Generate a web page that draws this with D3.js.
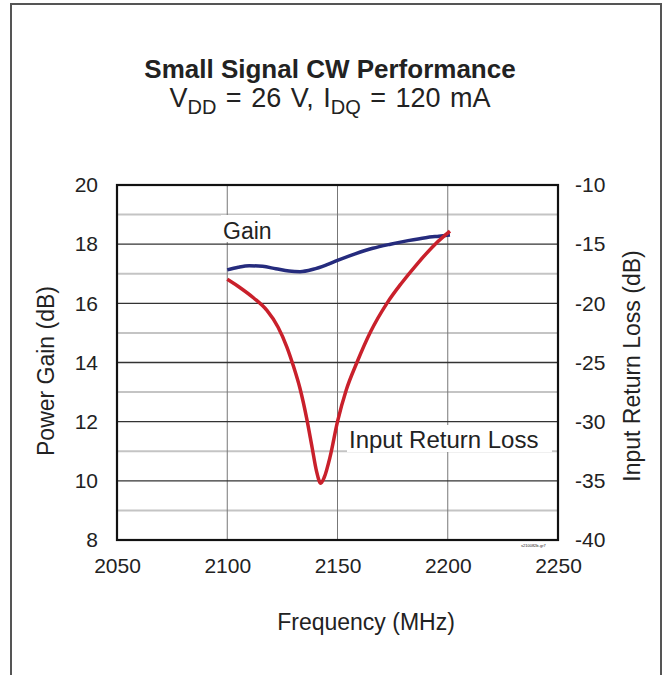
<html>
    <head>
        <title>Small Signal CW Performance</title>
        <script src="https://d3js.org/d3.v7.min.js" charset="utf-8"></script>
        <style>
        body {
            margin: 0;
            background: white;
            font-family: "Liberation Sans", Arial, sans-serif;
        }
        text { font-family: "Liberation Sans", Arial, sans-serif; fill: #222; }
        </style>
    </head>
    <body>
        <script>
            // chart size
            var width = 666;
            var height = 675;

            // gain curve (MHz, dB)
            var gainFreq = [2100, 2105, 2110, 2116, 2122, 2128, 2133, 2139, 2145, 2150, 2158, 2166, 2174, 2182, 2190, 2196, 2201];
            var gainDb   = [17.13, 17.22, 17.27, 17.25, 17.17, 17.09, 17.07, 17.15, 17.3, 17.45, 17.67, 17.86, 18.0, 18.12, 18.22, 18.27, 18.31];

            // input return loss curve (MHz, dB)
            var irlFreq = [2100, 2106, 2112, 2118, 2123, 2127, 2130, 2133, 2136, 2138.5, 2140.5, 2142.4, 2144, 2146.6, 2150, 2154, 2158.8, 2165, 2172.4, 2179, 2186, 2194.3, 2201];
            var irlDb   = [-17.97, -18.7, -19.55, -20.6, -22.0, -23.67, -25.3, -27.2, -29.7, -32.2, -34.2, -35.2, -34.7, -33.0, -30.0, -27.3, -25.0, -22.4, -20.0, -18.3, -16.7, -15.0, -13.9];

            // ticks
            var freqTicks = [2050, 2100, 2150, 2200, 2250];
            var gainTicks = [8, 10, 12, 14, 16, 18, 20];
            var gainMinor = [9, 11, 13, 15, 17, 19];
            var irlTicks  = [-40, -35, -30, -25, -20, -15, -10];

            // plot box (note: "top" is taken by window.top)
            var pL = 117, pR = 558, pT = 185, pB = 540;

            var x = d3.scaleLinear().domain([2050, 2250]).range([pL, pR]);
            var yL = d3.scaleLinear().domain([8, 20]).range([pB, pT]);
            var yR = d3.scaleLinear().domain([-40, -10]).range([pB, pT]);

            var svg = d3.select("body")
                .append("svg")
                .attr("width", width)
                .attr("height", height);

            // outer page frame
            svg.append("rect")
                .attr("x", 11).attr("y", 4)
                .attr("width", 650).attr("height", 700)
                .attr("fill", "none")
                .attr("stroke", "#555")
                .attr("stroke-width", 2);

            // titles
            svg.append("text")
                .attr("x", 330).attr("y", 78)
                .attr("text-anchor", "middle")
                .attr("font-size", 26)
                .attr("font-weight", "bold")
                .text("Small Signal CW Performance");

            var sub = svg.append("text")
                .attr("x", 330).attr("y", 107)
                .attr("text-anchor", "middle")
                .attr("font-size", 27)
                .attr("word-spacing", 2);
            sub.append("tspan").text("V");
            sub.append("tspan").attr("font-size", 20).attr("dy", 7).text("DD");
            sub.append("tspan").attr("dy", -7).text(" = 26 V, I");
            sub.append("tspan").attr("font-size", 20).attr("dy", 7).text("DQ");
            sub.append("tspan").attr("dy", -7).text(" = 120 mA");

            // grid lines
            var grid = svg.append("g");
            grid.selectAll(".minor")
                .data(gainMinor)
                .enter()
                .append("line")
                .attr("x1", pL).attr("x2", pR)
                .attr("y1", function(d){ return yL(d); })
                .attr("y2", function(d){ return yL(d); })
                .attr("stroke", "#c4c4c4")
                .attr("stroke-width", 2);

            grid.selectAll(".vert")
                .data(freqTicks.slice(1, -1))
                .enter()
                .append("line")
                .attr("x1", function(d){ return x(d); })
                .attr("x2", function(d){ return x(d); })
                .attr("y1", pT).attr("y2", pB)
                .attr("stroke", "#777")
                .attr("stroke-width", 1);

            grid.selectAll(".major")
                .data(gainTicks.slice(1, -1))
                .enter()
                .append("line")
                .attr("x1", pL).attr("x2", pR)
                .attr("y1", function(d){ return yL(d); })
                .attr("y2", function(d){ return yL(d); })
                .attr("stroke", "#333")
                .attr("stroke-width", 1.3);

            // label boxes cover the grid
            svg.append("rect").attr("x", 221).attr("y", 215).attr("width", 59).attr("height", 27).attr("fill", "white");
            svg.append("text").attr("x", 223).attr("y", 239).attr("font-size", 23).text("Gain");

            svg.append("rect").attr("x", 347).attr("y", 425).attr("width", 205).attr("height", 27).attr("fill", "white");
            svg.append("text").attr("x", 349).attr("y", 448).attr("font-size", 24).text("Input Return Loss");

            // curves
            var gainLine = d3.line()
                .x(function(d, i){ return x(gainFreq[i]); })
                .y(function(d){ return yL(d); })
                .curve(d3.curveMonotoneX);
            svg.append("path")
                .attr("d", gainLine(gainDb))
                .attr("fill", "none")
                .attr("stroke", "#252b7d")
                .attr("stroke-width", 3.5);

            var irlLine = d3.line()
                .x(function(d, i){ return x(irlFreq[i]); })
                .y(function(d){ return yR(d); })
                .curve(d3.curveMonotoneX);
            svg.append("path")
                .attr("d", irlLine(irlDb))
                .attr("fill", "none")
                .attr("stroke", "#c9202b")
                .attr("stroke-width", 3.5);

            // plot frame
            svg.append("rect")
                .attr("x", pL).attr("y", pT)
                .attr("width", pR - pL).attr("height", pB - pT)
                .attr("fill", "none")
                .attr("stroke", "#111")
                .attr("stroke-width", 2.2);

            // axes, plain hyphen for negatives
            var fmt = function(d){ return String(d); };
            var axL = svg.append("g")
                .attr("transform", "translate(" + pL + ",0)")
                .call(d3.axisLeft(yL).tickValues(gainTicks).tickFormat(fmt).tickSize(0).tickPadding(19));
            var axR = svg.append("g")
                .attr("transform", "translate(" + pR + ",0)")
                .call(d3.axisRight(yR).tickValues(irlTicks).tickFormat(fmt).tickSize(0).tickPadding(17));
            var axB = svg.append("g")
                .attr("transform", "translate(0," + pB + ")")
                .call(d3.axisBottom(x).tickValues(freqTicks).tickFormat(fmt).tickSize(0).tickPadding(18));
            [axL, axR, axB].forEach(function(a){
                a.select(".domain").remove();
                a.attr("font-family", null).attr("font-size", null);
                a.selectAll("text").attr("font-size", 21).attr("fill", "#222");
            });

            // axis titles
            svg.append("text")
                .attr("transform", "translate(54,371) rotate(-90)")
                .attr("text-anchor", "middle")
                .attr("font-size", 23)
                .text("Power Gain (dB)");
            svg.append("text")
                .attr("transform", "translate(640,366) rotate(-90)")
                .attr("text-anchor", "middle")
                .attr("font-size", 23)
                .text("Input Return Loss (dB)");
            svg.append("text")
                .attr("x", 366).attr("y", 630)
                .attr("text-anchor", "middle")
                .attr("font-size", 23)
                .text("Frequency (MHz)");

            // tiny figure id
            svg.append("text")
                .attr("x", 521).attr("y", 547)
                .attr("font-size", 4)
                .attr("fill", "#888")
                .text("s210082b-gr7");
        </script>
    </body>
</html>
